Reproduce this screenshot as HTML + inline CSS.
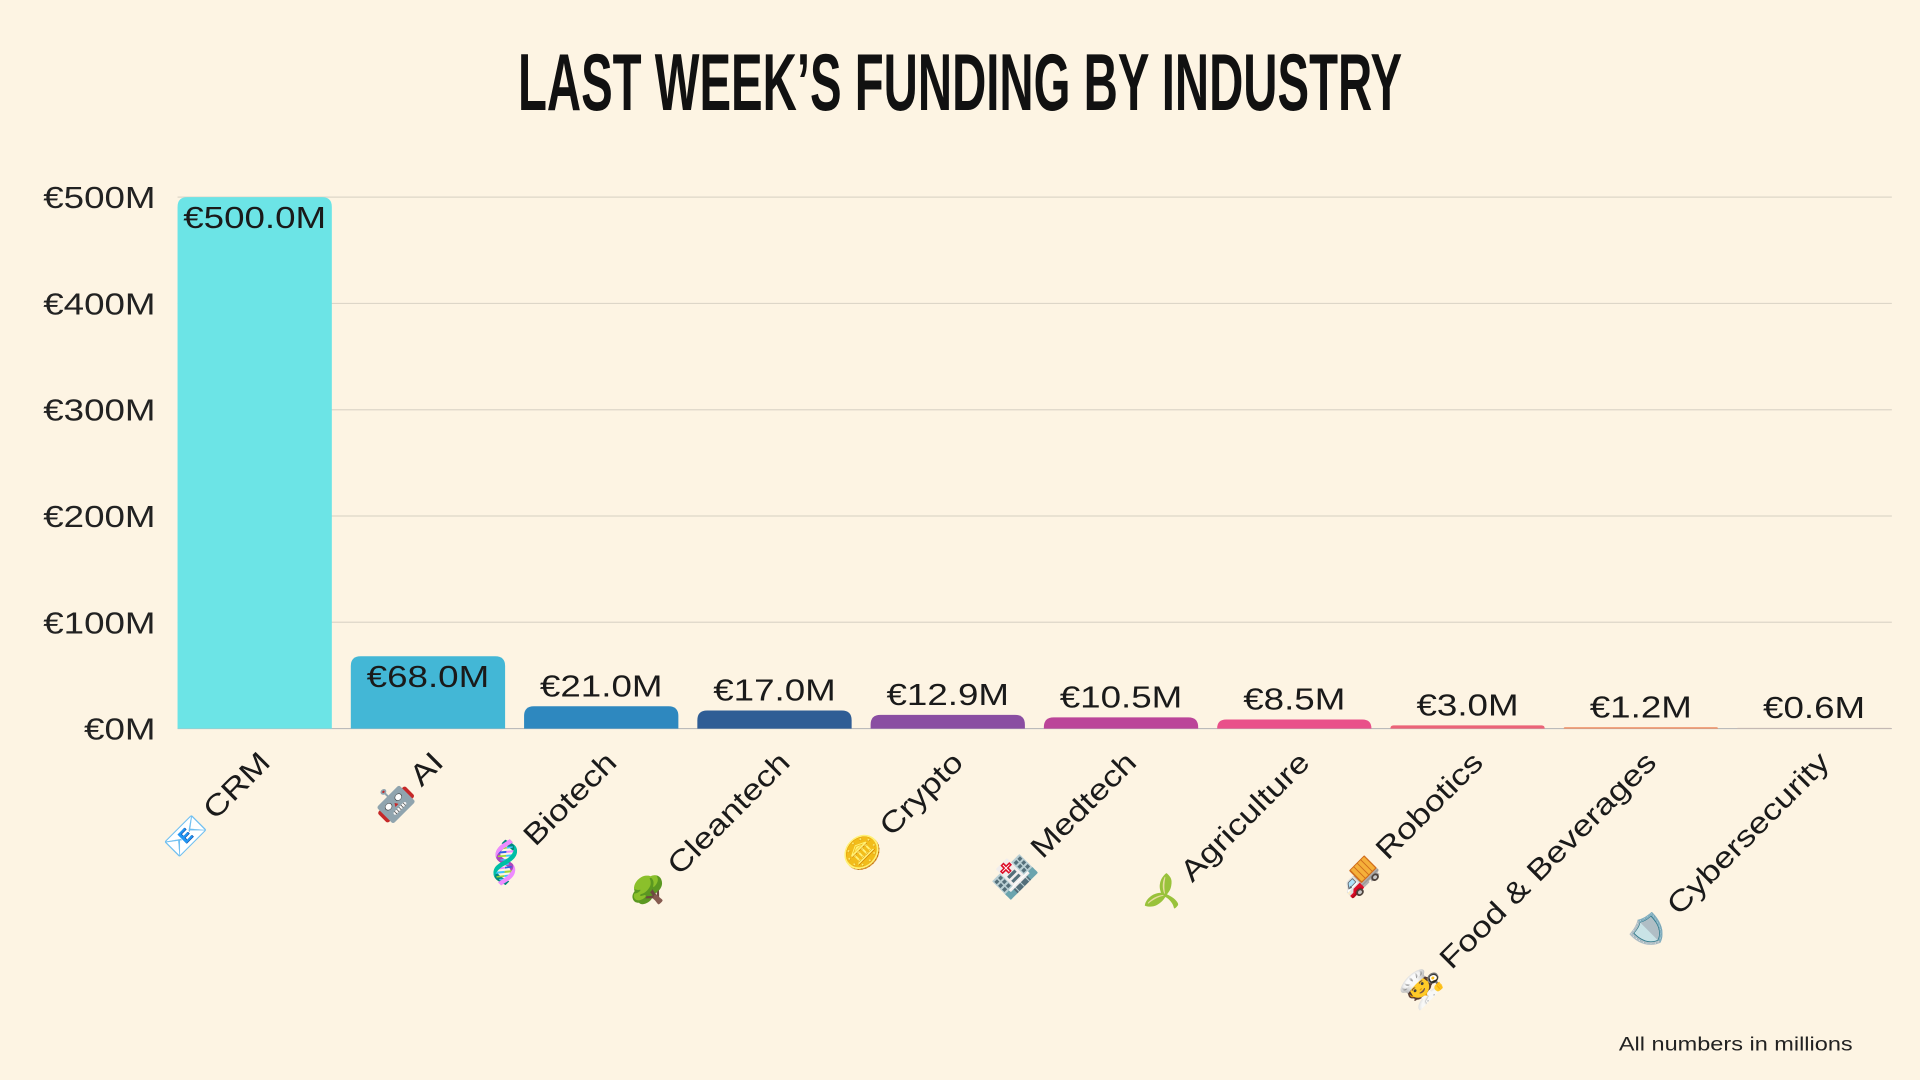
<!DOCTYPE html>
<html><head><meta charset="utf-8">
<style>
html,body{margin:0;padding:0;background:#fdf4e3;}
svg{display:block;}
text{font-family:"Liberation Sans","Noto Sans CJK JP",sans-serif;}
</style></head>
<body>
<svg id="chart" width="1920" height="1080" viewBox="0 0 1568 882" xmlns="http://www.w3.org/2000/svg">
<rect width="1568" height="882" fill="#fdf4e3"/>
<text x="423" y="90" font-size="66" font-weight="bold" fill="#111" textLength="722" lengthAdjust="spacingAndGlyphs">LAST WEEK’S FUNDING BY INDUSTRY</text>
<g id="grid"></g><g id="bars"></g><g id="labels"></g>
<text class="wide" x="1513" y="858" font-size="16" fill="#222" text-anchor="end">All numbers in millions</text>
</svg>
<script>
const categories=["CRM","AI","Biotech","Cleantech","Crypto","Medtech","Agriculture","Robotics","Food & Beverages","Cybersecurity"];
const emojis=["📧","🤖","🧬","🌳","🪙","🏥","🌱","🚚","🧑‍🍳","🛡️"];
const values=[500,68,21,17,12.9,10.5,8.5,3.0,1.2,0.6];
const valueLabels=["€500.0M","€68.0M","€21.0M","€17.0M","€12.9M","€10.5M","€8.5M","€3.0M","€1.2M","€0.6M"];
const colors=["#6ce4e6","#43b7d6","#2e88bf","#2f5d95","#8a4ea2","#bb4599","#e9508a","#ec6378","#f08a5d","#c9b8b0"];
const yTicks=[0,100,200,300,400,500];
const yTickLabels=["€0M","€100M","€200M","€300M","€400M","€500M"];
const NS="http://www.w3.org/2000/svg";
const y0=595,y1=161,x0=145,step=141.5,bw=126;
const yScale=v=>y0-(v/500)*(y0-y1);
const xScale=i=>x0+i*step;
function mk(tag,attrs,parent){const e=document.createElementNS(NS,tag);for(const k in attrs)e.setAttribute(k,attrs[k]);parent.appendChild(e);return e;}
const grid=document.getElementById('grid'),bars=document.getElementById('bars'),labels=document.getElementById('labels');
yTicks.forEach((t,i)=>{
  const y=yScale(t);
  const l=mk('line',{x1:145,x2:1545,y1:y,y2:y,stroke:i===0?'#bbb':'#ddd6c8','stroke-width':1},grid);
  
  
  const tx=mk('text',{x:127,y:y+9,'font-size':25,fill:'#222','text-anchor':'end','class':'wide'},grid);
  tx.textContent=yTickLabels[i];
  
  
});
values.forEach((v,i)=>{
  const x=xScale(i),top=yScale(v),h=y0-top,r=Math.min(8,h);
  const d=`M${x},${y0} L${x},${top+r} Q${x},${top} ${x+r},${top} L${x+bw-r},${top} Q${x+bw},${top} ${x+bw},${top+r} L${x+bw},${y0} Z`;
  const b=mk('path',{d:d,fill:colors[i]},bars);
  
  
  const cx=x+bw/2;
  const ly=h>40?top+25:Math.min(top-8,587);
  const vt=mk('text',{x:cx,y:ly,'font-size':25,fill:'#1a1a1a','text-anchor':'middle','class':'wide'},labels);
  vt.textContent=valueLabels[i];
  
  
  const ct=mk('text',{x:cx+14,y:624,'font-size':24,fill:'#1a1a1a','text-anchor':'end','class':'wide',transform:`rotate(-45 ${cx+14} 624)`},labels);
  ct.textContent=emojis[i]+" "+categories[i];
  
  
});
document.querySelectorAll('text.wide').forEach(t=>{
  const w=t.getComputedTextLength();
  t.setAttribute('textLength',(w*1.2).toFixed(1));
  t.setAttribute('lengthAdjust','spacingAndGlyphs');
});
</script>
</body></html>
